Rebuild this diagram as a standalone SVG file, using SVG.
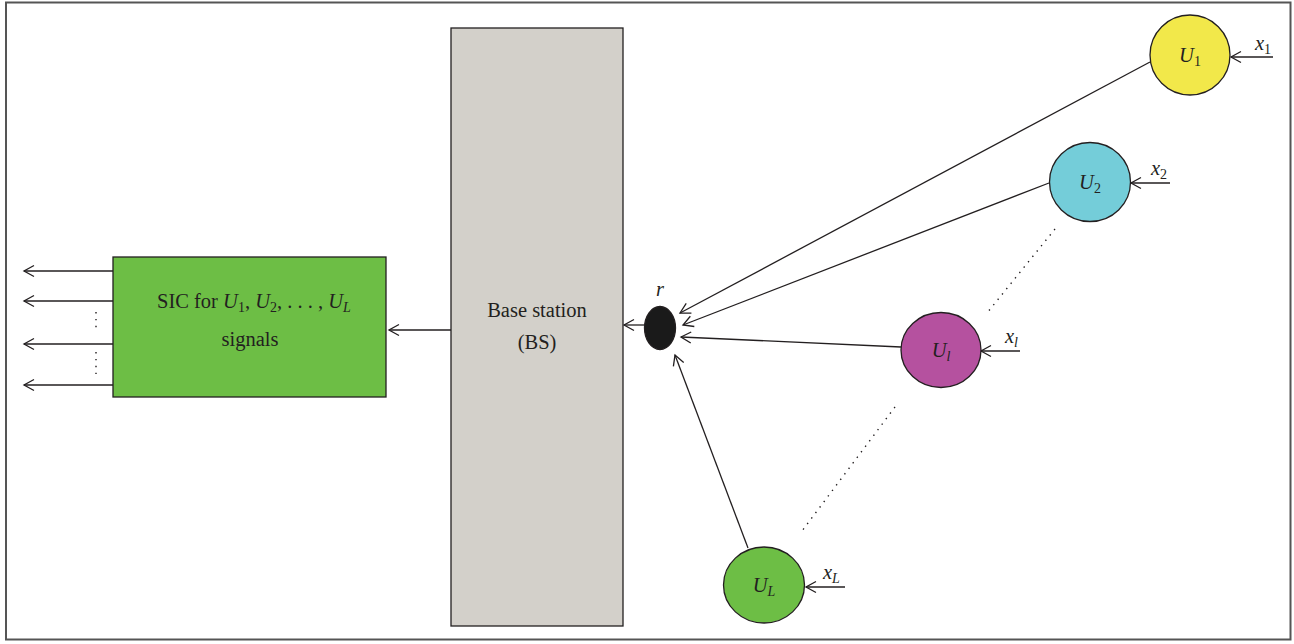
<svg xmlns="http://www.w3.org/2000/svg" width="1294" height="644" viewBox="0 0 1294 644">
<style>
.t{font-family:"Liberation Serif","DejaVu Serif",serif;font-size:20.5px;fill:#231f20}
.i{font-style:italic}
.s{font-size:14px}
.ln{stroke:#231f20;stroke-width:1.3;fill:none}
.nd{stroke:#231f20;stroke-width:1.3}
.dot{stroke:#231f20;stroke-width:1.4;stroke-dasharray:1.4 5.5;fill:none}
</style>
<defs>
<marker id="a" markerWidth="14" markerHeight="14" refX="12" refY="7" orient="auto" markerUnits="userSpaceOnUse">
<path d="M2,1.5 L12,7 L2,12.5" fill="none" stroke="#231f20" stroke-width="1.3"/>
</marker>
</defs>
<rect x="6" y="2.5" width="1284.5" height="637" fill="#fff" stroke="#555" stroke-width="2"/>
<g id="connectors">
<line class="ln" x1="1150" y1="62" x2="680" y2="313" marker-end="url(#a)"/>
<line class="ln" x1="1049" y1="183" x2="683" y2="325" marker-end="url(#a)"/>
<line class="ln" x1="901" y1="347" x2="681" y2="337" marker-end="url(#a)"/>
<line class="ln" x1="748" y1="548" x2="675" y2="355" marker-end="url(#a)"/>
<line class="ln" x1="644" y1="325" x2="624" y2="325" marker-end="url(#a)"/>
<line class="ln" x1="451" y1="330" x2="389" y2="330" marker-end="url(#a)"/>
<line class="ln" x1="1273" y1="57" x2="1231" y2="57" marker-end="url(#a)"/>
<line class="ln" x1="1170" y1="183" x2="1131" y2="183" marker-end="url(#a)"/>
<line class="ln" x1="1020" y1="351" x2="981" y2="351" marker-end="url(#a)"/>
<line class="ln" x1="845" y1="587" x2="806" y2="587" marker-end="url(#a)"/>
<line class="ln" x1="113" y1="271" x2="24" y2="271" marker-end="url(#a)"/>
<line class="ln" x1="113" y1="301" x2="24" y2="301" marker-end="url(#a)"/>
<line class="ln" x1="113" y1="344" x2="24" y2="344" marker-end="url(#a)"/>
<line class="ln" x1="113" y1="385" x2="24" y2="385" marker-end="url(#a)"/>
<line class="dot" x1="96" y1="312" x2="96" y2="332"/>
<line class="dot" x1="96" y1="352" x2="96" y2="374"/>
<line class="dot" x1="1055" y1="229" x2="987" y2="313"/>
<line class="dot" x1="895" y1="407" x2="802" y2="531"/>
</g>
<g id="sic">
<rect class="nd" x="113" y="257" width="273" height="140" fill="#6dbe45"/>
<text class="t" x="157" y="308">SIC for <tspan class="i">U</tspan><tspan class="s" dy="4">1</tspan><tspan dy="-4">, </tspan><tspan class="i">U</tspan><tspan class="s" dy="4">2</tspan><tspan dy="-4">, . . . , </tspan><tspan class="i">U</tspan><tspan class="s i" dy="4">L</tspan></text>
<text class="t" x="250" y="346" text-anchor="middle">signals</text>
</g>
<g id="bs">
<rect class="nd" x="451" y="28" width="172" height="598" fill="#d3d0ca"/>
<text class="t" x="537" y="317" text-anchor="middle">Base station</text>
<text class="t" x="537" y="349" text-anchor="middle">(BS)</text>
</g>
<g id="r">
<ellipse class="nd" cx="660" cy="328" rx="15.5" ry="21.5" fill="#1a1a1a"/>
<text class="t i" x="660" y="296" text-anchor="middle">r</text>
</g>
<g id="u1">
<circle class="nd" cx="1190" cy="55" r="40" fill="#f2e84a"/>
<text class="t" x="1190" y="62" text-anchor="middle"><tspan class="i">U</tspan><tspan class="s" dy="4">1</tspan></text>
<text class="t" x="1255" y="50"><tspan class="i">x</tspan><tspan class="s" dy="4">1</tspan></text>
</g>
<g id="u2">
<ellipse class="nd" cx="1090" cy="182" rx="40.5" ry="39.5" fill="#74cdd9"/>
<text class="t" x="1090" y="189" text-anchor="middle"><tspan class="i">U</tspan><tspan class="s" dy="4">2</tspan></text>
<text class="t" x="1151" y="175"><tspan class="i">x</tspan><tspan class="s" dy="4">2</tspan></text>
</g>
<g id="ul">
<ellipse class="nd" cx="941" cy="350" rx="40" ry="37.5" fill="#b5519f"/>
<text class="t" x="941" y="357" text-anchor="middle"><tspan class="i">U</tspan><tspan class="s i" dy="4">l</tspan></text>
<text class="t" x="1005" y="343"><tspan class="i">x</tspan><tspan class="s i" dy="4">l</tspan></text>
</g>
<g id="uL">
<ellipse class="nd" cx="764" cy="585" rx="40.5" ry="38" fill="#6dbe45"/>
<text class="t" x="764" y="592" text-anchor="middle"><tspan class="i">U</tspan><tspan class="s i" dy="4">L</tspan></text>
<text class="t" x="823" y="579"><tspan class="i">x</tspan><tspan class="s i" dy="4">L</tspan></text>
</g>
</svg>
